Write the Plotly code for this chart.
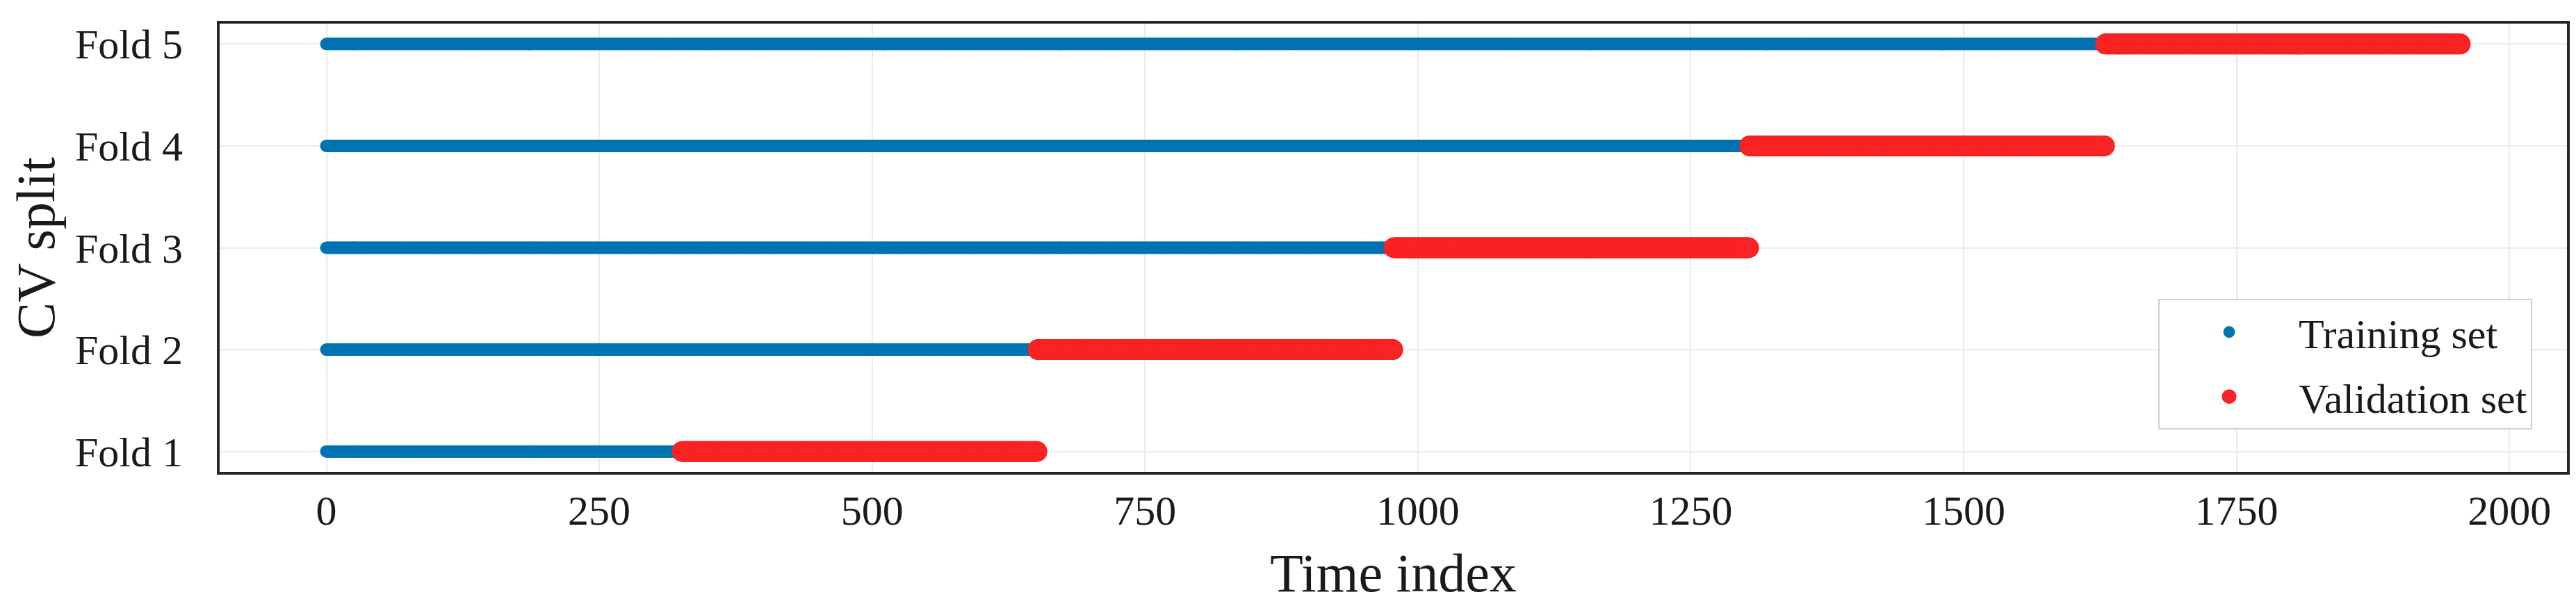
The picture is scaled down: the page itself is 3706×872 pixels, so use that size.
import numpy as np
import plotly.graph_objects as go

# ---- data ----
fold_labels = ["Fold 1", "Fold 2", "Fold 3", "Fold 4", "Fold 5"]
train_start = [0, 0, 0, 0, 0]
train_end = [325, 651, 977, 1303, 1629]
val_start = [326, 652, 978, 1304, 1630]
val_end = [651, 977, 1303, 1629, 1955]
x_ticks = [0, 250, 500, 750, 1000, 1250, 1500, 1750, 2000]

BLUE = "#0173b2"
RED = "#f82323"
FONT = "Liberation Serif, Times New Roman, serif"

tx, ty, vx, vy = [], [], [], []
for i in range(len(fold_labels)):
    idx_t = np.arange(train_start[i], train_end[i] + 1)
    idx_v = np.arange(val_start[i], val_end[i] + 1)
    tx.extend(idx_t.tolist()); ty.extend([i] * len(idx_t))
    vx.extend(idx_v.tolist()); vy.extend([i] * len(idx_v))

fig = go.Figure()
fig.add_trace(go.Scatter(x=tx, y=ty, mode="markers", name="Training set",
                         showlegend=False, legendgroup="train",
                         marker=dict(color=BLUE, size=18, line=dict(width=0))))
fig.add_trace(go.Scatter(x=vx, y=vy, mode="markers", name="Validation set",
                         showlegend=False, legendgroup="val",
                         marker=dict(color=RED, size=30, line=dict(width=0))))
# legend entries (no data drawn)
fig.add_trace(go.Scatter(x=[None], y=[None], mode="markers", name="Training set",
                         legendgroup="train",
                         marker=dict(color=BLUE, size=16, line=dict(width=1, color=BLUE))))
fig.add_trace(go.Scatter(x=[None], y=[None], mode="markers", name="Validation set",
                         legendgroup="val",
                         marker=dict(color=RED, size=16, line=dict(width=5, color=RED))))

xmin = min(train_start); xmax = max(val_end)
pad = 0.05 * (xmax - xmin)

fig.update_layout(
    width=3706, height=872,
    margin=dict(l=308, r=21, t=26, b=201),
    paper_bgcolor="white", plot_bgcolor="white",
    font=dict(family=FONT, size=60, color="#1a1a1a"),
    showlegend=True,
    legend=dict(x=0.9852, xanchor="right", y=0.24, yanchor="middle",
                bgcolor="white", bordercolor="#d0d0d0", borderwidth=2,
                font=dict(family=FONT, size=60, color="#1a1a1a"),
                itemsizing="trace", itemwidth=190, tracegroupgap=12),
    xaxis=dict(range=[xmin - pad, xmax + pad], tickvals=x_ticks,
               showgrid=True, gridcolor="#ebebeb", gridwidth=2, zeroline=False,
               showline=True, mirror=True, linecolor="#262626", linewidth=4,
               ticks="", ticklabelstandoff=0,
               title=dict(text="Time index", font=dict(size=78), standoff=30)),
    yaxis=dict(range=[-0.2, 4.2], tickvals=list(range(len(fold_labels))), ticktext=fold_labels,
               showgrid=True, gridcolor="#ebebeb", gridwidth=2, zeroline=False,
               showline=True, mirror=True, linecolor="#262626", linewidth=4,
               ticks="", ticklabelstandoff=37,
               title=dict(text="CV split", font=dict(size=78), standoff=15)),
)

fig.write_html("out.html")
